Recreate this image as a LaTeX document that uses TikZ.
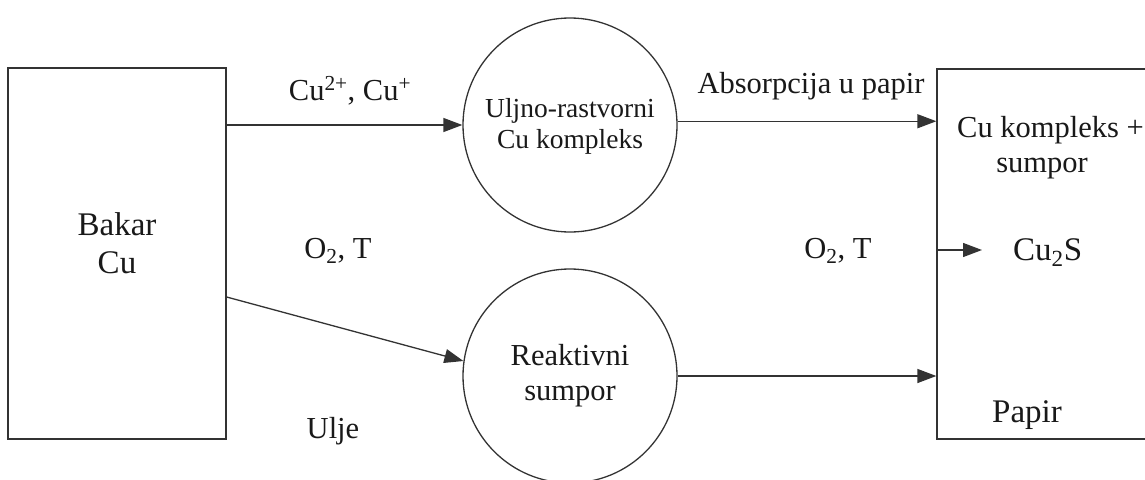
\documentclass[tikz,border=0pt]{standalone}
\usepackage{fontspec}
\setmainfont{Liberation Serif}
\usetikzlibrary{arrows.meta}
\tikzset{
  ln/.style={draw=black!80, line width=1.3pt},
  arr/.style={ln, -{Triangle[length=19pt,width=14pt]}},
  box/.style={ln, rectangle, inner sep=0pt},
  proc/.style={ln, circle, minimum size=214pt, inner sep=0pt},
  txt/.style={anchor=base, inner sep=0pt, text=black!90},
  fA/.style={font=\fontsize{33}{38}\selectfont},
  fB/.style={font=\fontsize{30.5}{36}\selectfont},
  fC/.style={font=\fontsize{27.5}{32}\selectfont},
}
\begin{document}
\begin{tikzpicture}[x=1pt,y=-1pt]
\useasboundingbox (0,0) rectangle (1145,479);
\fill[white] (0,0) rectangle (1145,479);
% boxes
\node[box, minimum width=218pt, minimum height=371pt] (bakar) at (117,253.5) {};
\node[box, minimum width=230pt, minimum height=370pt] (papir) at (1052,254) {};
% circles
\node[proc] (c1) at (570,125) {};
\node[proc] (c2) at (570,376) {};
% texts
\node[txt, fA] (t1) at (117,235) {Bakar};
\node[txt, fA] (t2) at (117,273) {Cu};
\node[txt, fC] (t3) at (570,117) {Uljno-rastvorni};
\node[txt, fC] (t4) at (570,148) {Cu kompleks};
\node[txt, fB] (t5) at (570,365) {Reaktivni};
\node[txt, fB] (t6) at (570,400) {sumpor};
\node[txt, fB] (t7) at (350,100) {Cu\textsuperscript{2+}, Cu\textsuperscript{+}};
\node[txt, fB] (t8) at (338,258) {O\textsubscript{2}, T};
\node[txt, fB] (t9) at (333,438) {Ulje};
\node[txt, fB] (t10) at (811,93) {Absorpcija u papir};
\node[txt, fB] (t11) at (838,258) {O\textsubscript{2}, T};
\node[txt, fB, anchor=base west] (t12) at (957,137) {Cu kompleks +};
\node[txt, fB] (t13) at (1042,172) {sumpor};
\node[txt, fA, anchor=base west] (t14) at (1013,260) {Cu\textsubscript{2}S};
\node[txt, fA] (t15) at (1027,422) {Papir};
% connectors
\coordinate (s2) at ([yshift=-43.5pt]bakar.east);
\coordinate (e5) at (982,250);
\draw[arr] (bakar.east |- c1.west) -- (c1.west);
\draw[arr] (s2) -- (c2.172);
\draw[arr] (c1.2) -- (c1.2 -| papir.west);
\draw[arr] (c2.east) -- (c2.east -| papir.west);
\draw[arr] (papir.west |- e5) -- (e5);
\end{tikzpicture}
\end{document}
